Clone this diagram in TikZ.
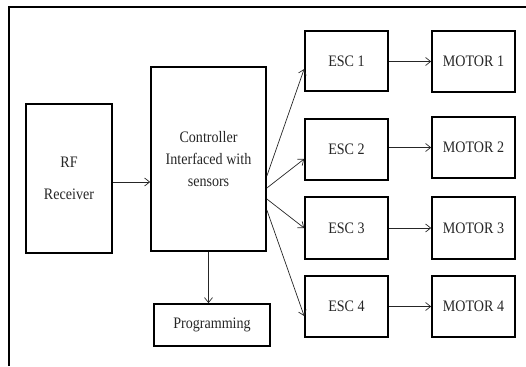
\documentclass[tikz,border=0pt]{standalone}
\usepackage{fontspec}
\setmainfont[FakeStretch=0.88]{Liberation Serif}
\usetikzlibrary{arrows.meta}
\tikzset{
  blk/.style={draw=black, line width=1.7pt, rectangle, align=center, inner sep=0pt,
    font=\fontsize{16}{22}\selectfont, text=black!85},
  arr/.style={draw=black!85, line width=0.7pt, -{Straight Barb[length=5pt,width=8pt]}},
}
\begin{document}
\begin{tikzpicture}[x=1pt,y=-1pt]
\useasboundingbox (0,0) rectangle (526,366);
% frame
\draw[line width=2pt] (9,366) -- (9,7) -- (526,7);
% blocks
\node[blk, minimum width=86pt, minimum height=149pt, font=\fontsize{16}{32}\selectfont] (rf) at (69,178.5) {RF\\Receiver};
\node[blk, minimum width=115pt, minimum height=184pt] (ctrl) at (208.5,159) {Controller\\Interfaced with\\sensors};
\node[blk, minimum width=116pt, minimum height=42pt] (prog) at (212,325) {Programming};
\node[blk, minimum width=83pt, minimum height=60pt] (esc1) at (346.5,61) {ESC 1};
\node[blk, minimum width=83pt, minimum height=61pt] (esc2) at (346.5,149.5) {ESC 2};
\node[blk, minimum width=83pt, minimum height=62pt] (esc3) at (346.5,228) {ESC 3};
\node[blk, minimum width=83pt, minimum height=61pt] (esc4) at (346.5,306.5) {ESC 4};
\node[blk, minimum width=83pt, minimum height=61pt] (m1) at (473.5,61.5) {MOTOR 1};
\node[blk, minimum width=83pt, minimum height=61pt] (m2) at (473.5,147.5) {MOTOR 2};
\node[blk, minimum width=83pt, minimum height=62pt] (m3) at (473.5,228) {MOTOR 3};
\node[blk, minimum width=83pt, minimum height=61pt] (m4) at (473.5,306.5) {MOTOR 4};
% connectors
\coordinate (rfo) at ([yshift=-3.5pt]rf.east);
\draw[arr] (rfo) -- (ctrl.west |- rfo);
\draw[arr] (ctrl.south) -- (prog.north -| ctrl.south);
\draw[arr] ([yshift=-17pt]ctrl.east) -- ([yshift=-8pt]esc1.west);
\draw[arr] ([yshift=-29pt]ctrl.east) -- ([yshift=-9.5pt]esc2.west);
\draw[arr] ([yshift=-40pt]ctrl.east) -- (esc3.west);
\draw[arr] ([yshift=-51pt]ctrl.east) -- ([yshift=-9.5pt]esc4.west);
\draw[arr] (esc1.east |- m1.west) -- (m1.west);
\draw[arr] (esc2.east |- m2.west) -- (m2.west);
\draw[arr] (esc3.east |- m3.west) -- (m3.west);
\draw[arr] (esc4.east |- m4.west) -- (m4.west);
\end{tikzpicture}
\end{document}
